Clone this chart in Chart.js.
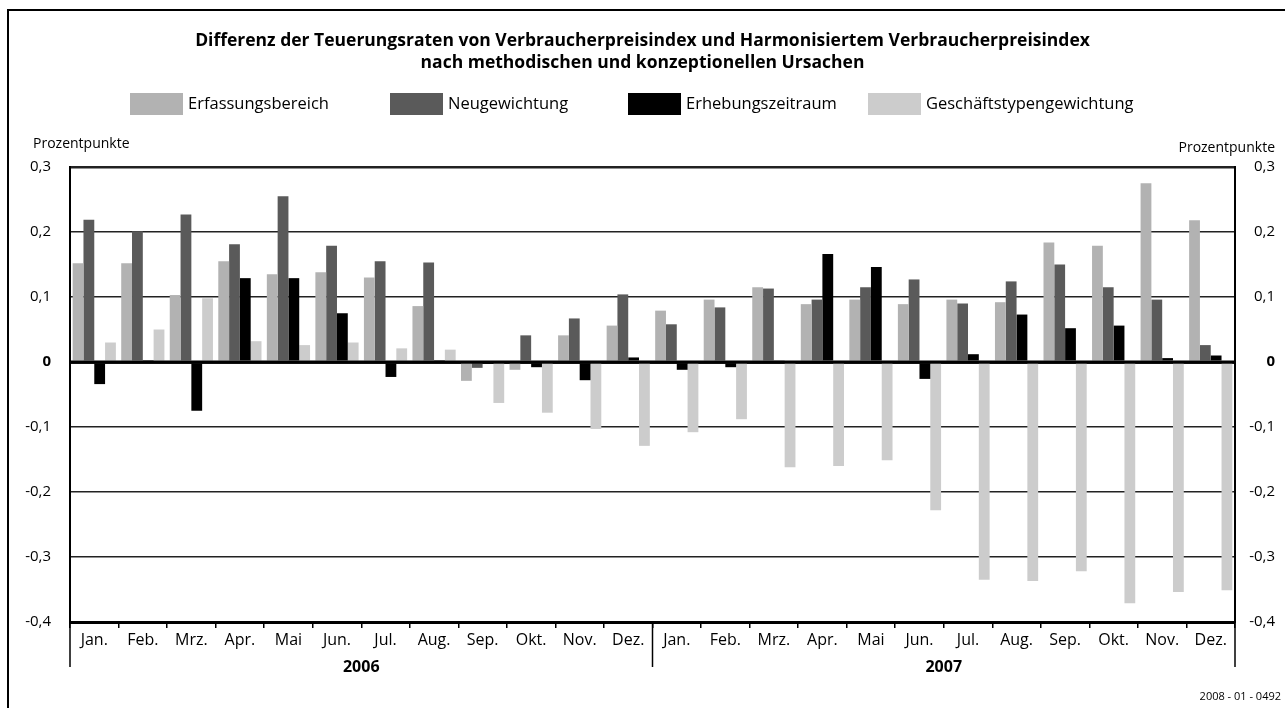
<!DOCTYPE html>
<html>
<head>
<meta charset="utf-8">
<script src="https://cdn.jsdelivr.net/npm/chart.js@4/dist/chart.umd.min.js"></script>
<style>
  html, body { margin: 0; padding: 0; background: #fff; }
  #wrap { width: 1285px; height: 708px; }
</style>
</head>
<body>
<div id="wrap"><canvas id="cpiChart" width="1285" height="708"></canvas></div>
<script>
// Chart data (Prozentpunkte).
var months = ["Jan.", "Feb.", "Mrz.", "Apr.", "Mai", "Jun.", "Jul.", "Aug.", "Sep.", "Okt.", "Nov.", "Dez."];
var years = ["2006", "2007"];
var seriesNames = ["Erfassungsbereich", "Neugewichtung", "Erhebungszeitraum", "Geschäftstypengewichtung"];
var yTicks = [0.3, 0.2, 0.1, 0, -0.1, -0.2, -0.3, -0.4];

var erfassung = [0.152, 0.152, 0.103, 0.155, 0.135, 0.138, 0.130, 0.086, -0.029, -0.012, 0.041, 0.056,
                 0.079, 0.096, 0.115, 0.089, 0.096, 0.089, 0.096, 0.092, 0.184, 0.179, 0.275, 0.218];
var neugewichtung = [0.219, 0.201, 0.227, 0.181, 0.255, 0.179, 0.155, 0.153, -0.009, 0.041, 0.067, 0.104,
                     0.058, 0.084, 0.113, 0.096, 0.115, 0.127, 0.090, 0.124, 0.150, 0.115, 0.096, 0.026];
var erhebung = [-0.034, 0.003, -0.075, 0.129, 0.129, 0.075, -0.023, 0.003, -0.003, -0.008, -0.028, 0.007,
                -0.012, -0.008, 0.002, 0.166, 0.146, -0.026, 0.012, 0.073, 0.052, 0.056, 0.006, 0.010];
var geschaeft = [0.030, 0.050, 0.098, 0.032, 0.026, 0.030, 0.021, 0.019, -0.063, -0.078, -0.103, -0.129,
                 -0.108, -0.088, -0.162, -0.160, -0.151, -0.228, -0.335, -0.337, -0.322, -0.371, -0.354, -0.351];

var seriesColors = ["#b2b2b2", "#5a5a5a", "#000000", "#cccccc"];

var FONT = "'Open Sans', 'Noto Sans', sans-serif";
Chart.defaults.font.family = FONT;
Chart.defaults.color = "#000";

// 24 month labels, two years
var labels = months.concat(months);

function formatTick(value) {
    var v = Math.round(value * 10) / 10;
    if (v === 0) return "0";
    return v.toFixed(1).replace(".", ",");
}

function isZero(v) {
    return Math.abs(v) < 1e-9;
}

// Draws the frame, titles, legend, year separators and the code number.
var decorPlugin = {
    id: "decor",
    beforeDraw: function (chart) {
        var c = chart.ctx;
        c.save();
        c.fillStyle = "#fff";
        c.fillRect(0, 0, chart.width, chart.height);
        c.restore();
    },
    afterDatasetsDraw: function (chart) {
        // zero line sits on top of the bars
        var c = chart.ctx;
        var area = chart.chartArea;
        var y0 = chart.scales.y.getPixelForValue(0);
        c.save();
        c.strokeStyle = "#000";
        c.lineWidth = 3;
        c.beginPath();
        c.moveTo(area.left, y0);
        c.lineTo(area.right, y0);
        c.stroke();
        c.restore();
    },
    afterDraw: function (chart) {
        var c = chart.ctx;
        var area = chart.chartArea;
        var xs = chart.scales.x;
        c.save();

        // outer frame (left and top)
        c.strokeStyle = "#000";
        c.lineWidth = 2;
        c.beginPath();
        c.moveTo(8, chart.height);
        c.lineTo(8, 10);
        c.lineTo(chart.width, 10);
        c.stroke();

        // title
        c.fillStyle = "#000";
        c.textAlign = "center";
        c.textBaseline = "middle";
        c.font = "bold 17.5px " + FONT;
        c.fillText("Differenz der Teuerungsraten von Verbraucherpreisindex und Harmonisiertem Verbraucherpreisindex", chart.width / 2, 41);
        c.fillText("nach methodischen und konzeptionellen Ursachen", chart.width / 2, 63);

        // legend
        var legendX = [130, 390, 628, 868];
        c.font = "16.5px " + FONT;
        c.textAlign = "left";
        for (var i = 0; i < seriesNames.length; i++) {
            c.fillStyle = seriesColors[i];
            c.fillRect(legendX[i], 93, 53, 22);
            c.fillStyle = "#000";
            c.fillText(seriesNames[i], legendX[i] + 58, 104);
        }

        // unit labels
        c.font = "14px " + FONT;
        c.textAlign = "left";
        c.fillText("Prozentpunkte", 33, 144);
        c.textAlign = "right";
        c.fillText("Prozentpunkte", 1275, 148);

        // year separators below the axis
        var mid = (xs.getPixelForValue(11) + xs.getPixelForValue(12)) / 2;
        c.strokeStyle = "#000";
        c.lineWidth = 1.5;
        [area.left, mid, area.right].forEach(function (x) {
            c.beginPath();
            c.moveTo(x, area.bottom);
            c.lineTo(x, 667);
            c.stroke();
        });

        // code number
        c.font = "11px " + FONT;
        c.textAlign = "right";
        c.fillText("2008 - 01 - 0492", 1281, 697);
        c.restore();
    }
};

function makeDataset(name, values, color) {
    return {
        label: name,
        data: values,
        backgroundColor: color,
        borderWidth: 0,
        categoryPercentage: 0.89,
        barPercentage: 1.0
    };
}

var yFont = function (ctx) {
    return ctx.tick && isZero(ctx.tick.value) ? {size: 15, weight: "bold"} : {size: 15};
};

new Chart(document.getElementById("cpiChart").getContext("2d"), {
    type: "bar",
    data: {
        labels: labels,
        datasets: [
            makeDataset(seriesNames[0], erfassung, seriesColors[0]),
            makeDataset(seriesNames[1], neugewichtung, seriesColors[1]),
            makeDataset(seriesNames[2], erhebung, seriesColors[2]),
            makeDataset(seriesNames[3], geschaeft, seriesColors[3])
        ]
    },
    options: {
        responsive: false,
        animation: false,
        layout: {padding: {top: 167, left: 0, right: 10, bottom: 32}},
        plugins: {
            legend: {display: false},
            title: {display: false},
            tooltip: {enabled: false}
        },
        scales: {
            x: {
                type: "category",
                position: "bottom",
                offset: true,
                grid: {
                    offset: true,
                    drawOnChartArea: false,
                    drawTicks: true,
                    tickLength: 6,
                    color: "#000",
                    lineWidth: 1.5
                },
                border: {display: true, color: "#000", width: 3},
                ticks: {
                    font: {size: 16},
                    color: "#000",
                    padding: 3,
                    maxRotation: 0,
                    autoSkip: false
                },
                afterFit: function (scale) { scale.height = 28; }
            },
            x2: {
                type: "category",
                labels: years,
                position: "bottom",
                offset: true,
                grid: {display: false},
                border: {display: false},
                ticks: {font: {size: 16, weight: "bold"}, color: "#000", padding: 0},
                afterFit: function (scale) { scale.height = 26; }
            },
            y: {
                position: "left",
                min: -0.4,
                max: 0.3,
                afterBuildTicks: function (scale) {
                    scale.ticks = yTicks.map(function (v) { return {value: v}; });
                },
                grid: {
                    drawTicks: false,
                    color: "#222",
                    lineWidth: function (ctx) {
                        if (!ctx.tick) return 1.5;
                        if (isZero(ctx.tick.value)) return 3;
                        if (Math.abs(ctx.tick.value - 0.3) < 1e-9) return 2.5;
                        if (Math.abs(ctx.tick.value + 0.4) < 1e-9) return 3;
                        return 1.5;
                    }
                },
                border: {display: true, color: "#000", width: 2},
                ticks: {
                    font: yFont,
                    color: "#000",
                    padding: 19,
                    callback: function (value) { return formatTick(value); }
                },
                afterFit: function (scale) { scale.width = 70; }
            },
            y2: {
                position: "right",
                min: -0.4,
                max: 0.3,
                afterBuildTicks: function (scale) {
                    scale.ticks = yTicks.map(function (v) { return {value: v}; });
                },
                grid: {drawOnChartArea: false, drawTicks: false},
                border: {display: true, color: "#000", width: 2},
                ticks: {
                    font: yFont,
                    color: "#000",
                    padding: 8,
                    crossAlign: "far",
                    callback: function (value) { return formatTick(value); }
                },
                afterFit: function (scale) { scale.width = 40; }
            }
        }
    },
    plugins: [decorPlugin]
});
</script>
</body>
</html>
